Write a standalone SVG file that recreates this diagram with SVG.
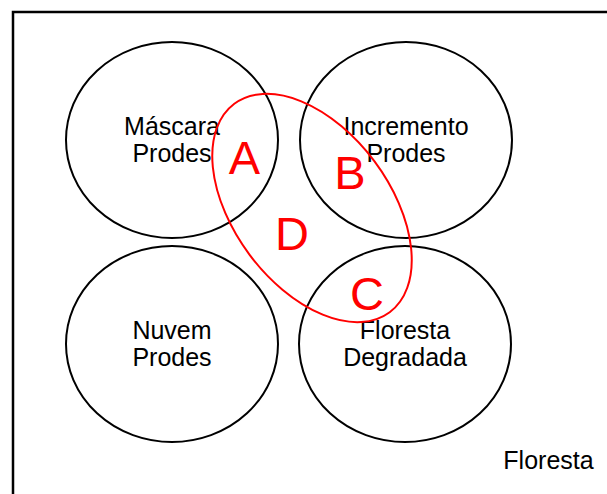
<svg xmlns="http://www.w3.org/2000/svg" width="607" height="494" viewBox="0 0 607 494">
<style>
.c{fill:none;stroke:#000;stroke-width:2}
.t{font-family:"Liberation Sans",Arial,sans-serif;font-size:25px;fill:#000;text-anchor:middle}
.r{font-family:"Liberation Sans",Arial,sans-serif;font-size:47px;fill:#f00;text-anchor:middle}
</style>
<rect width="607" height="494" fill="#fff"/>
<g id="floresta">
<rect x="13" y="12" width="620" height="520" fill="none" stroke="#000" stroke-width="2.5"/>
<text class="t" x="548.5" y="469">Floresta</text>
</g>
<g id="mascara">
<ellipse class="c" cx="172" cy="140" rx="106" ry="98"/>
<text class="t" x="172" y="135">Máscara</text>
<text class="t" x="172" y="162">Prodes</text>
</g>
<g id="incremento">
<ellipse class="c" cx="406" cy="140" rx="106" ry="98"/>
<text class="t" x="406" y="135">Incremento</text>
<text class="t" x="406" y="162">Prodes</text>
</g>
<g id="nuvem">
<ellipse class="c" cx="172" cy="344" rx="106" ry="98"/>
<text class="t" x="172" y="339">Nuvem</text>
<text class="t" x="172" y="366">Prodes</text>
</g>
<g id="degradada">
<ellipse class="c" cx="405" cy="344" rx="106" ry="98"/>
<text class="t" x="405" y="339">Floresta</text>
<text class="t" x="405" y="366">Degradada</text>
</g>
<g id="regiao">
<ellipse cx="312" cy="208" rx="130" ry="78" fill="none" stroke="#f00" stroke-width="2" transform="rotate(53.3 312 208)"/>
<text class="r" x="244.5" y="174">A</text>
<text class="r" x="350" y="189">B</text>
<text class="r" x="367" y="310">C</text>
<text class="r" x="292" y="250">D</text>
</g>
</svg>
